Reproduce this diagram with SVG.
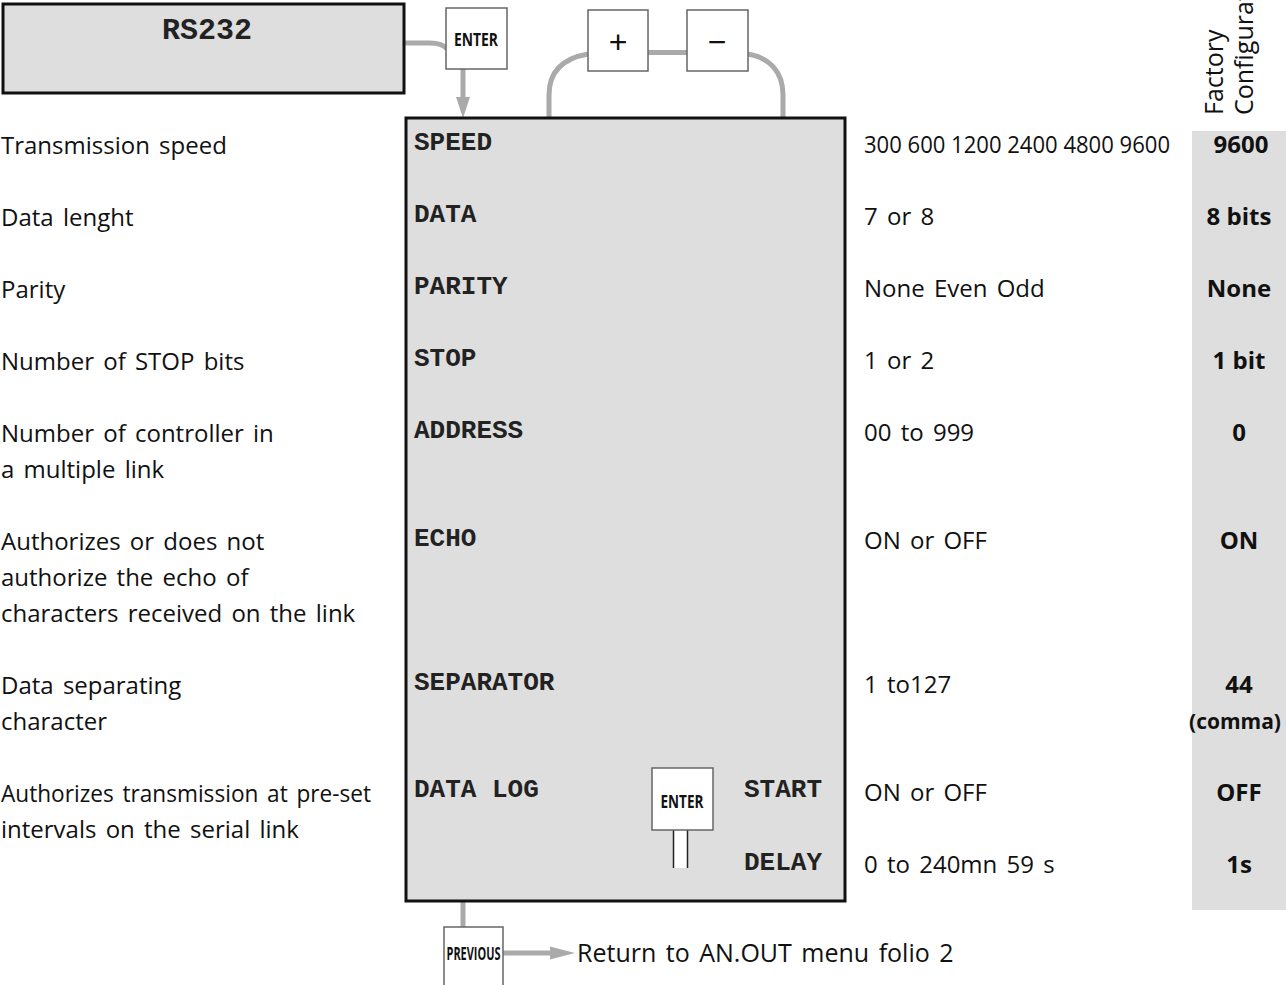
<svg xmlns="http://www.w3.org/2000/svg" width="1286" height="985" viewBox="0 0 1286 985">
<style>
.lbl{font-family:"Open Sans","Liberation Sans",sans-serif;font-size:24px;word-spacing:3px;fill:#111}
.val{font-family:"Open Sans","Liberation Sans",sans-serif;font-size:24px;word-spacing:3px;fill:#111}
.rot{font-family:"Open Sans","Liberation Sans",sans-serif;font-size:25px;fill:#111}
.cfg{font-family:"Open Sans","Liberation Sans",sans-serif;font-size:24px;font-weight:bold;fill:#111;text-anchor:middle}
.mono{font-family:"Liberation Mono","Courier New",monospace;font-size:26px;font-weight:bold;fill:#222}
.key{font-family:"Open Sans","Liberation Sans",sans-serif;font-weight:bold;fill:#111;text-anchor:middle}
.btn{fill:#fff;stroke:#666;stroke-width:1.5}
.conn{fill:none;stroke:#aaa;stroke-width:5}
.head{fill:#aaa}
</style>
<defs/>
<g id="factory-column">
<rect x="1192" y="131" width="94" height="779" fill="#dedede"/>
<text class="rot" transform="translate(1223,115) rotate(-90)">Factory</text>
<text class="rot" transform="translate(1253,115) rotate(-90)">Configuration</text>
</g>
<g id="connectors">
<path class="conn" d="M405,43 H430 Q442,43 447,49"/>
<path class="conn" d="M463,69 V100"/>
<polygon class="head" points="456,97 470,97 463,118"/>
<path class="conn" d="M549,118 V95 C549,70 565,58 588,54"/>
<path class="conn" d="M648,52.5 H687"/>
<path class="conn" d="M748,54 C770,58 783,72 783,95 V118"/>
<path class="conn" d="M463,901 V927"/>
<path class="conn" d="M503,953 H553"/>
<polygon class="head" points="550,946.5 550,959.5 575,953"/>
</g>
<g id="rs232">
<rect x="3" y="4" width="401" height="89" fill="#dedede" stroke="#111" stroke-width="3"/>
<text class="mono" x="207" y="39" text-anchor="middle" style="font-size:30px">RS232</text>
</g>
<g id="enter-top">
<rect class="btn" x="446" y="8" width="61" height="61"/>
<text class="key" x="476" y="46" font-size="17" textLength="44" lengthAdjust="spacingAndGlyphs">ENTER</text>
</g>
<g id="plus">
<rect class="btn" x="588" y="10" width="60" height="61"/>
<text x="618" y="53" font-family="Liberation Sans, sans-serif" font-size="32" text-anchor="middle" fill="#111">+</text>
</g>
<g id="minus">
<rect class="btn" x="687" y="10" width="61" height="61"/>
<text x="717" y="53" font-family="Liberation Sans, sans-serif" font-size="32" text-anchor="middle" fill="#111">−</text>
</g>
<g id="menu">
<rect x="406" y="118" width="439" height="783" fill="#dedede" stroke="#111" stroke-width="3"/>
<text class="mono" x="414" y="150">SPEED</text>
<text class="mono" x="414" y="222">DATA</text>
<text class="mono" x="414" y="294">PARITY</text>
<text class="mono" x="414" y="366">STOP</text>
<text class="mono" x="414" y="438">ADDRESS</text>
<text class="mono" x="414" y="546">ECHO</text>
<text class="mono" x="414" y="690">SEPARATOR</text>
<text class="mono" x="414" y="797">DATA LOG</text>
<text class="mono" x="822" y="797" text-anchor="end">START</text>
<text class="mono" x="822" y="870" text-anchor="end">DELAY</text>
</g>
<g id="enter-datalog">
<rect x="673" y="830" width="15" height="38" fill="#fff"/>
<path d="M673.5,830 V868 M687.5,830 V868" stroke="#222" stroke-width="1.5" fill="none"/>
<rect class="btn" x="652" y="768" width="61" height="62"/>
<text class="key" x="682" y="808" font-size="17" textLength="43" lengthAdjust="spacingAndGlyphs">ENTER</text>
</g>
<g id="previous">
<rect class="btn" x="444" y="927" width="59" height="70"/>
<text class="key" x="473.5" y="960" font-size="17" textLength="54" lengthAdjust="spacingAndGlyphs">PREVIOUS</text>
<text class="lbl" x="577" y="962" style="font-size:25px">Return to AN.OUT menu folio 2</text>
</g>
<g id="labels">
<text class="lbl" x="1" y="154">Transmission speed</text>
<text class="lbl" x="1" y="226">Data lenght</text>
<text class="lbl" x="1" y="298">Parity</text>
<text class="lbl" x="1" y="370">Number of STOP bits</text>
<text class="lbl" x="1" y="442">Number of controller in</text>
<text class="lbl" x="1" y="478">a multiple link</text>
<text class="lbl" x="1" y="550">Authorizes or does not</text>
<text class="lbl" x="1" y="586">authorize the echo of</text>
<text class="lbl" x="1" y="622">characters received on the link</text>
<text class="lbl" x="1" y="694">Data separating</text>
<text class="lbl" x="1" y="730">character</text>
<text class="lbl" x="1" y="802" textLength="370" lengthAdjust="spacingAndGlyphs">Authorizes transmission at pre-set</text>
<text class="lbl" x="1" y="838">intervals on the serial link</text>
</g>
<g id="values">
<text class="val" x="864" y="153" textLength="306" lengthAdjust="spacingAndGlyphs" style="word-spacing:0">300 600 1200 2400 4800 9600</text>
<text class="val" x="864" y="225">7 or 8</text>
<text class="val" x="864" y="297">None Even Odd</text>
<text class="val" x="864" y="369">1 or 2</text>
<text class="val" x="864" y="441">00 to 999</text>
<text class="val" x="864" y="549">ON or OFF</text>
<text class="val" x="864" y="693">1 to127</text>
<text class="val" x="864" y="801">ON or OFF</text>
<text class="val" x="864" y="873">0 to 240mn 59 s</text>
</g>
<g id="defaults">
<text class="cfg" x="1241" y="153">9600</text>
<text class="cfg" x="1239" y="225">8 bits</text>
<text class="cfg" x="1239" y="297">None</text>
<text class="cfg" x="1239" y="369">1 bit</text>
<text class="cfg" x="1239" y="441">0</text>
<text class="cfg" x="1239" y="549">ON</text>
<text class="cfg" x="1239" y="693">44</text>
<text class="cfg" x="1235" y="729" style="font-size:21px">(comma)</text>
<text class="cfg" x="1239" y="801">OFF</text>
<text class="cfg" x="1239" y="873">1s</text>
</g>
</svg>
